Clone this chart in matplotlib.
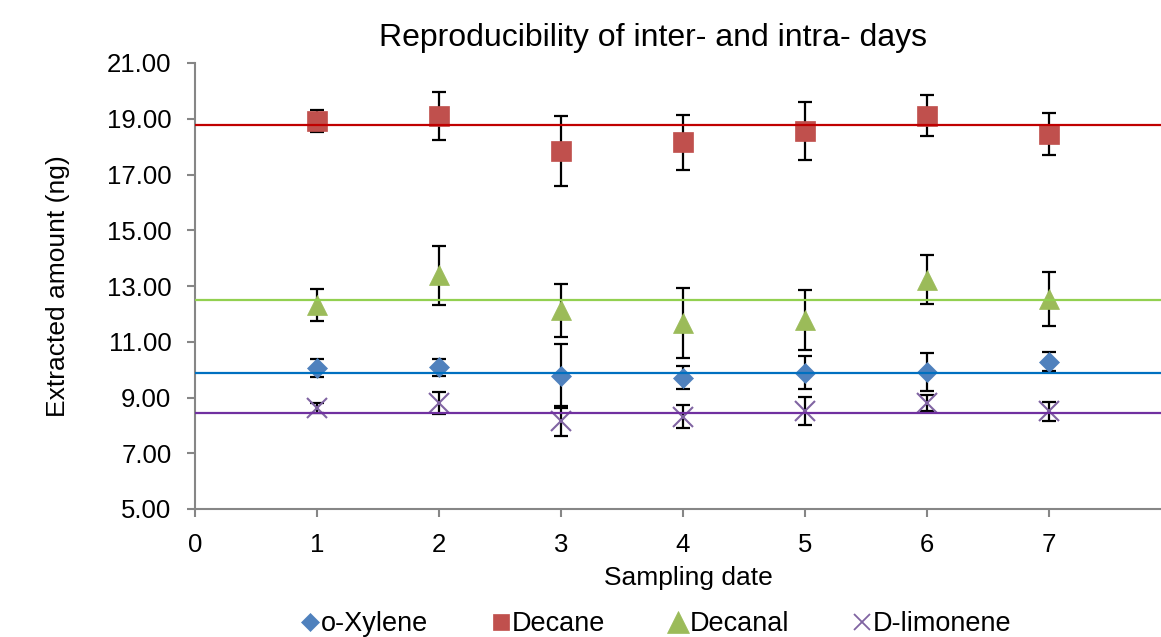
import matplotlib
matplotlib.use("Agg")
import matplotlib.pyplot as plt
from matplotlib.lines import Line2D
import numpy as np

plt.rcParams['font.family'] = ['Liberation Sans', 'DejaVu Sans']

days = [1, 2, 3, 4, 5, 6, 7]

xylene = [10.06, 10.08, 9.77, 9.71, 9.89, 9.93, 10.29]
xylene_err = [0.32, 0.30, 1.16, 0.41, 0.60, 0.68, 0.35]
xylene_mean = 9.88

decane = [18.92, 19.11, 17.84, 18.15, 18.56, 19.11, 18.45]
decane_err = [0.41, 0.86, 1.25, 1.00, 1.05, 0.73, 0.74]
decane_mean = 18.76

decanal = [12.33, 13.38, 12.13, 11.67, 11.78, 13.22, 12.53]
decanal_err = [0.57, 1.05, 0.95, 1.25, 1.08, 0.88, 0.98]
decanal_mean = 12.48

limonene = [8.62, 8.80, 8.16, 8.31, 8.52, 8.80, 8.50]
limonene_err = [0.17, 0.38, 0.53, 0.41, 0.50, 0.30, 0.34]
limonene_mean = 8.45

labels = ["o-Xylene", "Decane", "Decanal", "D-limonene"]
title = "Reproducibility of inter- and intra- days"
xlabel = "Sampling date"
ylabel = "Extracted amount (ng)"
yticks = [5, 7, 9, 11, 13, 15, 17, 19, 21]
xticks = [0, 1, 2, 3, 4, 5, 6, 7]

W, H = 1161, 637
fig = plt.figure(figsize=(W / 100, H / 100), dpi=100)
ax = fig.add_axes([195 / W, (H - 509) / H, (W - 195) / W, (509 - 63) / H])

series = [
    (xylene, xylene_err, xylene_mean, 'D', 10.2, 8.7, '#4F81BD', '#0070C0', labels[0]),
    (decane, decane_err, decane_mean, 's', 14.4, 11.5, '#C0504D', '#C00000', labels[1]),
    (decanal, decanal_err, decanal_mean, '^', 14.0, 15.8, '#9BBB59', '#92D050', labels[2]),
    (limonene, limonene_err, limonene_mean, 'x', 14.0, 11.5, '#8064A2', '#7030A0', labels[3]),
]

handles = []
for vals, err, mean, mk, ms, lms, mcol, lcol, lab in series:
    ax.errorbar(days, vals, yerr=err, fmt='none', ecolor='black',
                elinewidth=1.6, capsize=5, capthick=1.6, zorder=2)
    mew = 1.5 if mk == 'x' else 0.5
    ax.plot(days, vals, linestyle='none', marker=mk, markersize=ms,
            color=mcol, markeredgecolor=mcol, markeredgewidth=mew, zorder=3)
    ax.axhline(mean, color=lcol, linewidth=1.6, zorder=4)
    handles.append(Line2D([], [], linestyle='none', marker=mk, markersize=lms,
                          color=mcol, markeredgecolor=mcol,
                          markeredgewidth=(1.3 if mk == 'x' else 0.5)))

ax.set_xlim(0, (W - 195) / 122.0)
ax.set_ylim(5, 21)
ax.set_yticks(yticks)
ax.set_yticklabels([f"{v:.2f}" for v in yticks])
ax.set_xticks(xticks)
ax.set_xticklabels([str(v) for v in xticks])

for s in ['top', 'right']:
    ax.spines[s].set_visible(False)
for s in ['left', 'bottom']:
    ax.spines[s].set_color('#868686')
    ax.spines[s].set_linewidth(1.5)
ax.tick_params(axis='both', direction='out', color='#868686', width=1.5,
               length=6, labelsize=18.5, labelcolor='black')
ax.tick_params(axis='y', pad=11)
ax.tick_params(axis='x', pad=11)

fig.text(653 / W, 1 - 38 / H, title, ha='center', va='center', fontsize=23)
fig.text(688 / W, 1 - 578 / H, xlabel, ha='center', va='center', fontsize=19)
fig.text(58 / W, 1 - 286 / H, ylabel, ha='center', va='center', fontsize=19,
         rotation=90)

fig.legend(handles=handles, labels=labels, loc='center', ncol=4,
           bbox_to_anchor=(656 / W, 1 - 624 / H), frameon=False,
           fontsize=19.5, handletextpad=0.05, columnspacing=2.34,
           handlelength=0.7)

fig.savefig("out.png", dpi=100)
